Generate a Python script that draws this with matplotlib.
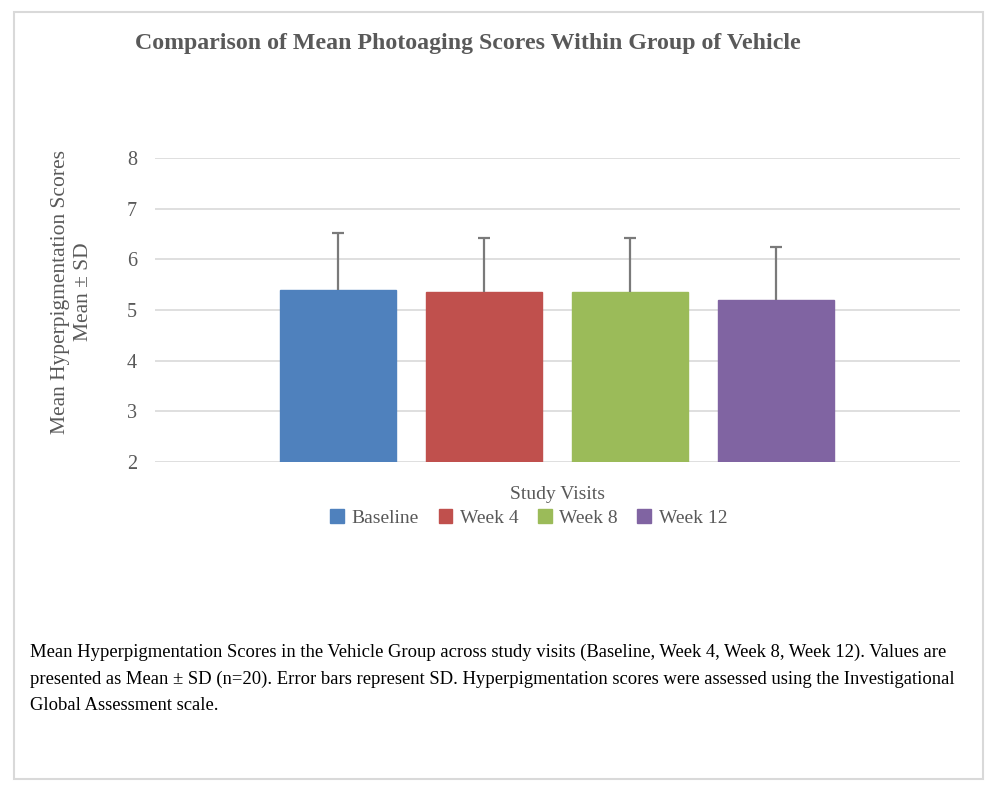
import matplotlib.pyplot as plt
from matplotlib.patches import Rectangle

# 데이터
visits = ["Baseline", "Week 4", "Week 8", "Week 12"]
means = [5.40, 5.35, 5.35, 5.20]
sds = [1.11, 1.08, 1.08, 1.05]
colors = ["#4F81BD", "#C0504D", "#9BBB59", "#8064A2"]
y_ticks = [2, 3, 4, 5, 6, 7, 8]

title = "Comparison of Mean Photoaging Scores Within Group of Vehicle"
caption = ("Mean Hyperpigmentation Scores in the Vehicle Group across study visits (Baseline, Week 4, Week 8, Week 12). Values are\n"
           "presented as Mean \u00b1 SD (n=20). Error bars represent SD. Hyperpigmentation scores were assessed using the Investigational\n"
           "Global Assessment scale.")

grey = "#595959"
serif = ["Liberation Serif", "DejaVu Serif"]

W, H = 1000, 796
fig = plt.figure(figsize=(W / 100, H / 100), dpi=100)

# 바깥 테두리
fig.patches.append(Rectangle((14 / W, 1 - 779 / H), (983 - 14) / W, (779 - 12) / H,
                             transform=fig.transFigure, fill=False,
                             edgecolor="#d9d9d9", linewidth=1.5))

ax = fig.add_axes([155 / W, 1 - 462 / H, (960 - 155) / W, (462 - 158) / H])

x = list(range(len(visits)))
for i in x:
    ax.bar(i, means[i] - 2, bottom=2, width=0.795, color=colors[i],
           edgecolor=colors[i], label=visits[i], zorder=2)
    # 위쪽 에러바만 (엑셀 plus 방향)
    eb = ax.errorbar(i, means[i], yerr=[[0], [sds[i]]], fmt="none", ecolor="#7a7a7a",
                     elinewidth=1.6, capsize=4, capthick=1.6, zorder=3)
    eb[1][0].set_visible(False)

ax.set_xlim(-1.253, 4.257)
ax.set_ylim(2, 8)
ax.set_yticks(y_ticks)
ax.set_yticklabels([str(t) for t in y_ticks], family=serif, fontsize=14.5, color=grey)
ax.set_xticks([])
ax.grid(axis="y", color="#d9d9d9", linewidth=1.2, zorder=0)
ax.tick_params(axis="y", length=0, pad=13)
for s in ax.spines.values():
    s.set_visible(False)

fig.text(468 / W, 1 - 44 / H, title, ha="center", va="center",
         family=serif, fontsize=17.2, fontweight="bold", color=grey)

fig.text(72 / W, 1 - 292 / H, "Mean Hyperpigmentation Scores\nMean \u00b1 SD",
         rotation=90, ha="center", va="center", family=serif, fontsize=15.5,
         color=grey, linespacing=1.25)

fig.text(557 / W, 1 - 495 / H, "Study Visits", ha="center", va="center",
         family=serif, fontsize=14, color=grey)

leg = fig.legend(loc="center", bbox_to_anchor=(529 / W, 1 - 518 / H), ncol=4,
                 frameon=False, handlelength=0.7, handleheight=0.7,
                 handletextpad=0.4, columnspacing=1.0,
                 prop={"family": serif, "size": 14})
for t in leg.get_texts():
    t.set_color(grey)

fig.text(30 / W, 1 - 644 / H, caption, ha="left", va="top",
         family=serif, fontsize=13.4, color="black", linespacing=1.7)

fig.savefig("out.png", dpi=100)
